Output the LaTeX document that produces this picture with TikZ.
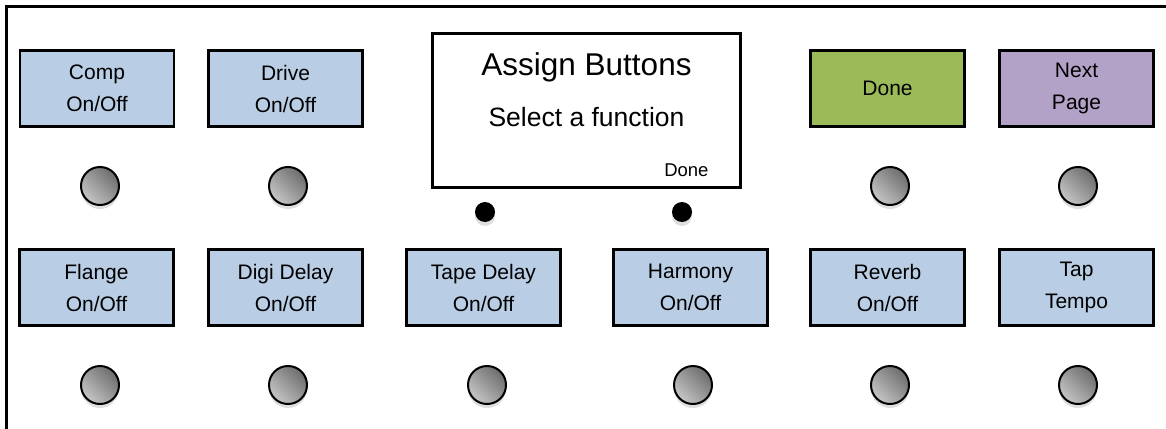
\documentclass[tikz,border=0pt]{standalone}
\usepackage{fontspec}
\setmainfont{Liberation Sans}
\usetikzlibrary{shadows}
\definecolor{btnblue}{HTML}{B9CDE5}
\definecolor{btngreen}{HTML}{9BBB59}
\definecolor{btnpurple}{HTML}{B2A2C7}
\tikzset{
  btn/.style={draw=black, line width=2.5pt, fill=btnblue, minimum width=154pt, minimum height=76pt,
    align=center, inner sep=0pt, font=\fontsize{21}{32}\selectfont},
  knob/.style={circle, draw=black, line width=2pt, minimum size=38pt, inner sep=0pt,
    top color=gray!85!black, bottom color=gray!45, shading angle=-45,
    drop shadow={opacity=0.25, shadow xshift=0pt, shadow yshift=-4pt}},
  dot/.style={circle, fill=black, minimum size=20pt, inner sep=0pt,
    drop shadow={opacity=0.25, shadow xshift=0pt, shadow yshift=-4pt}},
  screen/.style={draw=black, line width=2.5pt, fill=white, minimum width=308pt, minimum height=154pt, inner sep=0pt}
}
\begin{document}
\begin{tikzpicture}[x=1pt,y=-1pt]
\useasboundingbox (0,0) rectangle (1166,428);
\clip (0,0) rectangle (1166,428);
\draw[line width=3pt] (6,440) -- (6,7) -- (1180,7);
% top row
\node[btn] (comp) at (97,88.5) {Comp\\On/Off};
\node[btn] (drive) at (285.5,88.5) {Drive\\On/Off};
\node[screen] (scr) at (586.5,110.5) {};
\node[font=\fontsize{31.5}{36}\selectfont, anchor=base] (title) at (586.5,75) {Assign Buttons};
\node[font=\fontsize{26.5}{30}\selectfont, anchor=base] (sel) at (586.5,126) {Select a function};
\node[font=\fontsize{18.5}{20}\selectfont, anchor=base east] (sdone) at (712,176) {Done};
\node[btn, fill=btngreen] (done) at (887.5,88.5) {Done};
\node[btn, fill=btnpurple] (next) at (1076.5,88.5) {Next\\Page};
\node[knob] (k1) at (100,186) {};
\node[knob] (k2) at (288,186) {};
\node[dot] (d1) at (485,212) {};
\node[dot] (d2) at (682,212) {};
\node[knob] (k5) at (890,186) {};
\node[knob] (k6) at (1078,186) {};
% bottom row
\node[btn] (flange) at (96.5,287.5) {Flange\\On/Off};
\node[btn] (digi) at (285.5,287.5) {Digi Delay\\On/Off};
\node[btn] (tape) at (483.5,287.5) {Tape Delay\\On/Off};
\node[btn] (harm) at (690.5,287.5) {Harmony\\On/Off};
\node[btn] (rev) at (887.5,287.5) {Reverb\\On/Off};
\node[btn] (tap) at (1076.5,287.5) {Tap\\Tempo};
\node[knob] (b1) at (100,385) {};
\node[knob] (b2) at (288,385) {};
\node[knob] (b3) at (487,385) {};
\node[knob] (b4) at (693,385) {};
\node[knob] (b5) at (890,385) {};
\node[knob] (b6) at (1078,385) {};
\end{tikzpicture}
\end{document}
